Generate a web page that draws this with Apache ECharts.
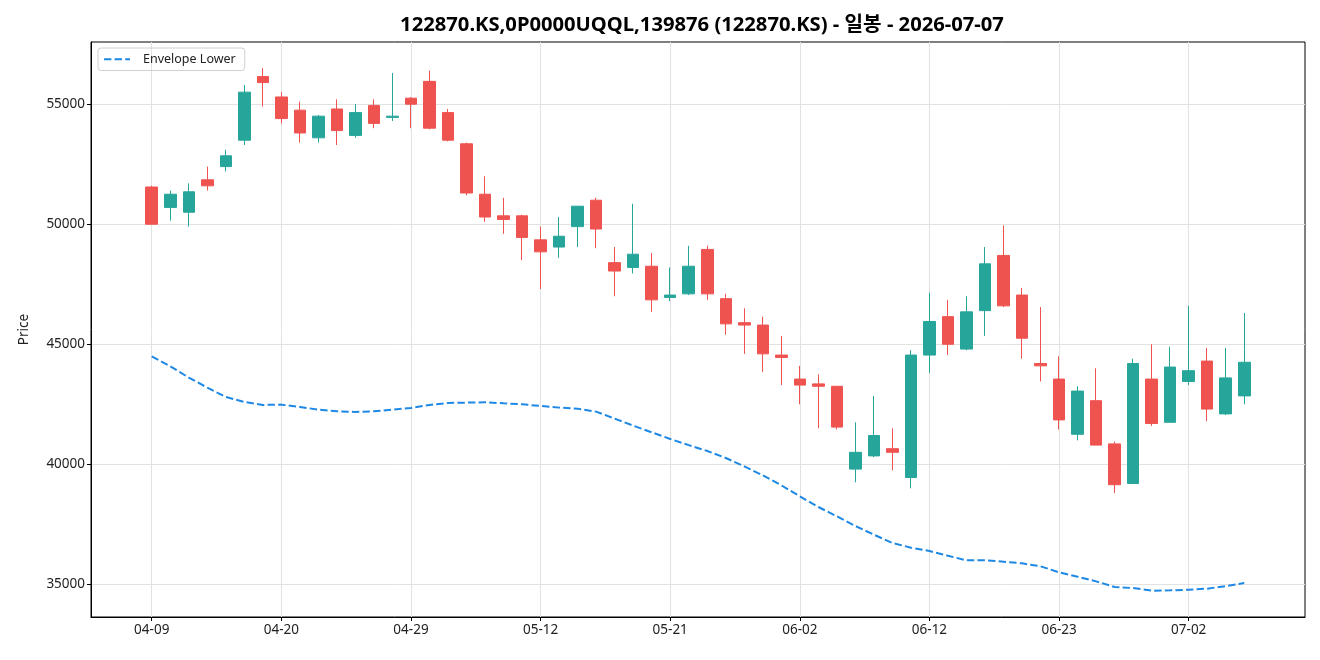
<!DOCTYPE html>
<html>
<head>
<meta charset="utf-8">
<script src="https://cdn.jsdelivr.net/npm/echarts@6/dist/echarts.min.js"></script>
<style>html,body{margin:0;padding:0;background:#fff;}#chart{width:1320px;height:660px;}</style>
</head>
<body>
<div id="chart"></div>
<script>
const dates = ['04-09','04-10','04-13','04-14','04-15','04-16','04-17','04-20','04-21','04-22',
'04-23','04-24','04-27','04-28','04-29','04-30','05-04','05-06','05-07','05-08',
'05-11','05-12','05-13','05-14','05-15','05-18','05-19','05-20','05-21','05-22',
'05-26','05-27','05-28','05-29','06-01','06-02','06-04','06-05','06-08','06-09',
'06-10','06-11','06-12','06-15','06-16','06-17','06-18','06-19','06-22','06-23',
'06-24','06-25','06-26','06-29','06-30','07-01','07-02','07-03','07-06','07-07'];
const openV = [51550,50700,50500,51850,52400,53500,56150,55300,54750,53600,
54800,53700,54950,54450,55250,55950,54650,53350,51250,50350,
50350,49350,49050,49900,51000,48400,48200,48250,46950,47100,
48950,46900,45900,45800,44550,43550,43350,43250,39800,40350,
40650,39450,44550,46150,44800,46400,48700,47050,44200,43550,
41250,42650,40850,39200,43550,41750,43450,44300,42100,42850];
const closeV = [50000,51250,51350,51600,52850,55500,55900,54400,53800,54500,
53900,54650,54200,54500,55000,54000,53500,51300,50300,50200,
49450,48850,49500,50750,49800,48050,48750,46850,47050,48250,
47100,45850,45800,44600,44450,43300,43250,41550,40500,41200,
40500,44550,45950,45000,46350,48350,46600,45250,44100,41850,
43050,40800,39150,44200,41700,44050,43900,42300,43600,44250];
const lowV = [50000,50150,49900,51400,52200,53300,54900,54200,53400,53400,
53300,53600,54000,54300,54000,53950,53450,51200,50100,49600,
48500,47300,48600,49050,49000,47000,47950,46350,46800,47050,
46850,45400,44600,43850,43300,42500,41500,41450,39250,40300,
39750,39000,43800,44550,44750,45350,46550,44400,43450,41450,
41000,40800,38800,39200,41600,41750,43300,41800,42050,42500];
const highV = [51600,51400,51700,52400,53100,55800,56500,55500,55100,54550,
55200,55000,55200,56300,55300,56400,54800,53400,52000,51100,
50400,49900,50300,50750,51100,49050,50850,48800,48200,49100,
49100,47100,46500,46150,45350,44100,43750,43250,41750,42850,
41500,44750,47150,46850,47000,49050,49950,47350,46550,44500,
43250,44000,40950,44400,45000,44900,46600,44850,44850,46300];
const envLower = [44500,44083,43611,43194,42806,42597,42472,42486,42389,42278,
42208,42180,42208,42278,42350,42472,42555,42570,42583,42540,
42500,42430,42361,42319,42194,41903,41611,41333,41055,40800,
40555,40263,39917,39540,39125,38667,38222,37833,37430,37070,
36722,36528,36388,36190,36000,36000,35945,35875,35750,35500,
35320,35125,34888,34846,34736,34750,34778,34820,34930,35055];
const xTickIdx = [0,7,14,21,28,35,42,49,56];
const yTicks = [35000,40000,45000,50000,55000];
const titleText = '122870.KS,0P0000UQQL,139876 (122870.KS) - 일봉 - 2026-07-07';

const candleData = dates.map((d,i)=>[i, openV[i], closeV[i], lowV[i], highV[i]]);
const envData = envLower.map((v,i)=>[i, v]);
const FONT = '"Noto Sans", "Noto Sans CJK KR", sans-serif';

const chart = echarts.init(document.getElementById('chart'), null, {renderer:'canvas'});
chart.setOption({
  animation: false,
  backgroundColor: '#fff',
  textStyle: {fontFamily: FONT},
  title: {
    text: titleText, left: 697, top: 10, textAlign: 'center',
    textStyle: {fontFamily: FONT, fontSize: 20.2, fontWeight: 'bold', color: '#000'}
  },
  legend: {
    left: 98, top: 48, orient: 'vertical',
    data: [{name: 'Envelope Lower', icon: 'path://M0,0H7.4V2H0Z M10.6,0H18V2H10.6Z M21.2,0H26V2H21.2Z'}],
    itemWidth: 26, itemHeight: 2, itemGap: 4,
    padding: [5, 9, 5, 6],
    borderColor: '#d0d0d0', borderWidth: 1, borderRadius: 3,
    textStyle: {fontFamily: FONT, fontSize: 12.5, color: '#222', padding: [0, 0, 0, 8]}
  },
  grid: {left: 91, right: 15, top: 42, bottom: 43, show: true, borderColor: '#000', borderWidth: 1, backgroundColor: 'transparent'},
  xAxis: {
    type: 'value', min: -3.28, max: 62.28,
    axisLine: {show: true, onZero: false, lineStyle: {color: '#000', width: 1}},
    axisTick: {show: true, customValues: xTickIdx, length: 4, lineStyle: {color: '#000'}},
    axisLabel: {customValues: xTickIdx, formatter: v => dates[v] || '', fontFamily: FONT, fontSize: 13.5, color: '#222', margin: 6},
    splitLine: {show: true, lineStyle: {color: '#e2e2e2', width: 1}}
  },
  yAxis: {
    type: 'value', min: 33640, max: 57590, scale: true,
    name: 'Price', nameLocation: 'middle', nameGap: 60, nameRotate: 90,
    nameTextStyle: {fontFamily: FONT, fontSize: 13.5, color: '#222'},
    axisLine: {show: true, onZero: false, lineStyle: {color: '#000', width: 1}},
    axisTick: {show: true, customValues: yTicks, length: 4, lineStyle: {color: '#000'}},
    axisLabel: {customValues: yTicks, formatter: v => String(v), fontFamily: FONT, fontSize: 13.5, color: '#222', margin: 6},
    splitLine: {show: true, lineStyle: {color: '#e2e2e2', width: 1}}
  },
  series: [
    {
      type: 'candlestick', name: 'Price',
      data: candleData,
      encode: {x: 0, y: [1, 2, 3, 4]},
      barWidth: 12,
      itemStyle: {color: '#26a69a', color0: '#ef5350', borderColor: '#26a69a', borderColor0: '#ef5350', borderWidth: 1}
    },
    {
      type: 'line', name: 'Envelope Lower',
      data: envData, symbol: 'none', showSymbol: false,
      lineStyle: {color: '#1e88e5', width: 2, type: [7.4, 3.2]},
      itemStyle: {color: '#1e88e5'},
      z: 3
    }
  ]
});
</script>
</body>
</html>
